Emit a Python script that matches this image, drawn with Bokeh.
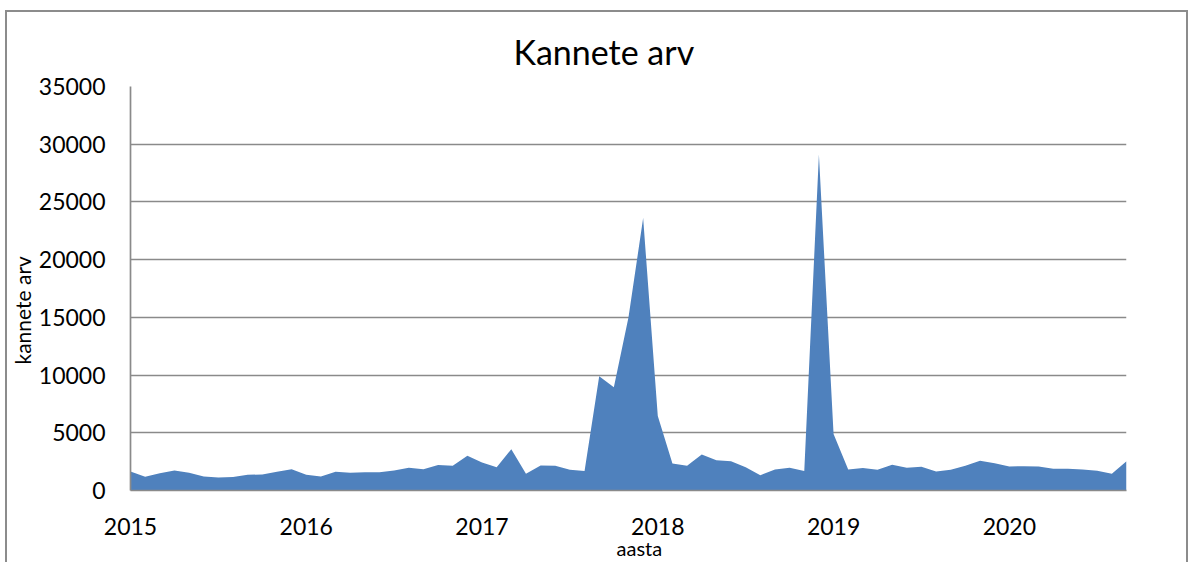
from bokeh.plotting import figure
from bokeh.models import FixedTicker, Range1d, ColumnDataSource, Title
from bokeh.embed import file_html
from bokeh.resources import INLINE

# Monthly values, Jan 2015 .. Sep 2020
month_index = list(range(69))
kannete_arv = [
    1650, 1200, 1500, 1730, 1530, 1210, 1130, 1160, 1360, 1390, 1620, 1850,  # 2015
    1360, 1220, 1620, 1530, 1590, 1590, 1730, 1970, 1850, 2200, 2140, 3000,  # 2016
    2430, 2020, 3580, 1450, 2170, 2140, 1790, 1680, 9900, 8950, 15000, 23600, # 2017
    6450, 2340, 2140, 3120, 2630, 2540, 2020, 1330, 1820, 1970, 1680, 29100,  # 2018
    4900, 1820, 1940, 1790, 2230, 1970, 2050, 1650, 1790, 2140, 2570, 2370,  # 2019
    2080, 2110, 2080, 1880, 1880, 1820, 1710, 1450, 2540,                    # 2020
]
year_ticks = [0, 12, 24, 36, 48, 60]
year_labels = ["2015", "2016", "2017", "2018", "2019", "2020"]
y_ticks = [0, 5000, 10000, 15000, 20000, 25000, 30000, 35000]
x_title = "aasta"
y_title = "kannete arv"

FONT = "Lato"
GRID = "#8a8a8a"

p = figure(
    output_backend="svg", toolbar_location=None,
    frame_width=996, frame_height=404,
    min_border_left=100, min_border_right=60,
    min_border_top=74, min_border_bottom=80,
    x_range=Range1d(0, len(month_index) - 1), y_range=Range1d(0, 35000),
    title="Kannete arv",
)
p.styles = {"border-left": "2px solid #8c8c8c", "border-top": "2px solid #8c8c8c",
            "border-right": "2px solid #8c8c8c",
            "margin-left": "5px", "margin-top": "10px"}

src = ColumnDataSource(dict(x=month_index, y=kannete_arv))
p.varea(x="x", y1=0, y2="y", source=src, fill_color="#4f81bd")

p.title.text_font = FONT
p.title.text_font_size = "34px"
p.title.text_font_style = "normal"
p.title.align = "left"
p.title.offset = 383
p.title.standoff = 29
p.title.text_color = "#000000"

p.outline_line_color = None
p.background_fill_color = "white"

p.xgrid.grid_line_color = None
p.ygrid.grid_line_color = GRID
p.ygrid.grid_line_width = 1.7
p.ygrid.ticker = FixedTicker(ticks=y_ticks)

p.xaxis.ticker = FixedTicker(ticks=year_ticks)
p.xaxis.major_label_overrides = {t: l for t, l in zip(year_ticks, year_labels)}
p.yaxis.ticker = FixedTicker(ticks=y_ticks)

for ax in (p.xaxis[0], p.yaxis[0]):
    ax.axis_line_color = GRID
    ax.axis_line_width = 1.7
    ax.major_tick_line_color = None
    ax.minor_tick_line_color = None
    ax.major_tick_out = 0
    ax.major_tick_in = 0
    ax.major_label_text_font = FONT
    ax.major_label_text_font_size = "23px"
    ax.major_label_text_color = "#000000"

p.xaxis.major_label_standoff = 27
p.yaxis.major_label_standoff = 25
p.yaxis.major_label_orientation = "horizontal"

# axis titles as side titles, so they can be placed like the original
p.add_layout(Title(
    text=y_title, align="left", offset=126, standoff=1,
    text_font=FONT, text_font_size="21px", text_font_style="normal",
    text_color="#000000",
), "left")
p.add_layout(Title(
    text=x_title, align="left", offset=486, standoff=-8,
    text_font=FONT, text_font_size="20px", text_font_style="normal",
    text_color="#000000",
), "below")

open("out.html", "w").write(file_html(p, INLINE))
